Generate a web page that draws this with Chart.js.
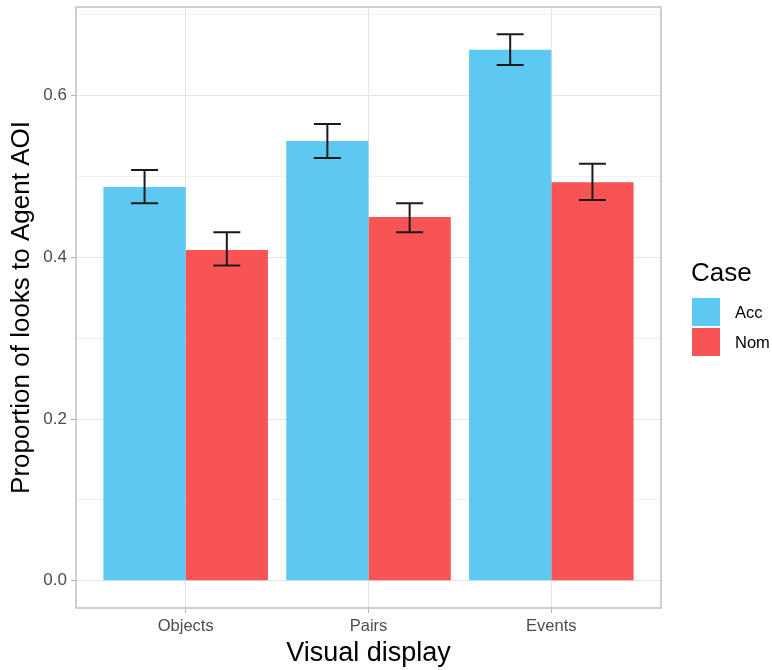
<!DOCTYPE html>
<html>
<head>
<meta charset="utf-8">
<script src="https://cdn.jsdelivr.net/npm/chart.js@4/dist/chart.umd.min.js"></script>
<style>
  html, body { margin: 0; padding: 0; background: #ffffff; }
  #wrap { width: 772px; height: 670px; position: relative; }
</style>
</head>
<body>
<div id="wrap"><canvas id="c" width="772" height="670"></canvas></div>
<script>
// Visual display conditions on the x axis
const categories = ['Objects', 'Pairs', 'Events'];
const caseLabels = ['Acc', 'Nom'];

// Mean proportion of looks to the agent AOI per case
const accMeans = [0.487, 0.544, 0.657];
const nomMeans = [0.409, 0.450, 0.493];

// Error bar bounds (lower, upper)
const accLower = [0.467, 0.523, 0.638];
const accUpper = [0.508, 0.565, 0.676];
const nomLower = [0.390, 0.431, 0.471];
const nomUpper = [0.431, 0.467, 0.516];

// Y axis tick values; odd entries are minor grid lines only
const yTicks = [0, 0.1, 0.2, 0.3, 0.4, 0.5, 0.6, 0.7];
const yTickLabels = ['0.0', '', '0.2', '', '0.4', '', '0.6', ''];

const colors = { Acc: '#5DC8F2', Nom: '#F85455' };
const FONT = '"Liberation Sans", Arial, Helvetica, sans-serif';

// ggplot-style 5% expansion around the data range
const yTop = Math.max(...accUpper, ...nomUpper);
const yPad = yTop * 0.05;

const errorBars = [
  { lower: accLower, upper: accUpper },
  { lower: nomLower, upper: nomUpper }
];

const errorBarPlugin = {
  id: 'errorBars',
  afterDatasetsDraw(chart) {
    const ctx = chart.ctx;
    const y = chart.scales.y;
    ctx.save();
    ctx.strokeStyle = '#1a1a1a';
    ctx.lineWidth = 2;
    errorBars.forEach((eb, di) => {
      const meta = chart.getDatasetMeta(di);
      meta.data.forEach((bar, i) => {
        const x = bar.x;
        const yl = y.getPixelForValue(eb.lower[i]);
        const yu = y.getPixelForValue(eb.upper[i]);
        const half = 13.5;
        ctx.beginPath();
        ctx.moveTo(x, yl); ctx.lineTo(x, yu);
        ctx.moveTo(x - half, yl); ctx.lineTo(x + half, yl);
        ctx.moveTo(x - half, yu); ctx.lineTo(x + half, yu);
        ctx.stroke();
      });
    });
    ctx.restore();
  }
};

const panelPlugin = {
  id: 'panelBorder',
  afterDraw(chart) {
    const { ctx, chartArea: a } = chart;
    ctx.save();
    ctx.strokeStyle = '#c4c4c4';
    ctx.lineWidth = 1.6;
    ctx.strokeRect(a.left, a.top, a.right - a.left, a.bottom - a.top);

    // legend
    ctx.fillStyle = '#000000';
    ctx.textBaseline = 'alphabetic';
    ctx.textAlign = 'left';
    ctx.font = '26px ' + FONT;
    ctx.fillText('Case', 691, 281);
    ctx.font = '16.5px ' + FONT;
    caseLabels.forEach((lab, i) => {
      const top = 298 + i * 30;
      ctx.fillStyle = colors[lab];
      ctx.fillRect(692, top, 28, 28);
      ctx.fillStyle = '#000000';
      ctx.fillText(lab, 735, top + 20);
    });
    ctx.restore();
  }
};

new Chart(document.getElementById('c'), {
  type: 'bar',
  data: {
    datasets: [
      {
        label: caseLabels[0],
        data: accMeans.map((v, i) => ({ x: i + 1, y: v })),
        backgroundColor: colors.Acc,
        borderWidth: 0
      },
      {
        label: caseLabels[1],
        data: nomMeans.map((v, i) => ({ x: i + 1, y: v })),
        backgroundColor: colors.Nom,
        borderWidth: 0
      }
    ]
  },
  plugins: [errorBarPlugin, panelPlugin],
  options: {
    responsive: false,
    animation: false,
    events: [],
    layout: { padding: { left: 0, right: 111, top: 7, bottom: 0 } },
    datasets: { bar: { categoryPercentage: 0.9, barPercentage: 1.0 } },
    plugins: { legend: { display: false }, tooltip: { enabled: false } },
    scales: {
      x: {
        type: 'linear',
        min: 0.4,
        max: 3.6,
        offset: false,
        afterBuildTicks(scale) {
          scale.ticks = categories.map((c, i) => ({ value: i + 1 }));
        },
        afterFit(scale) {
          scale.height = 62;
          scale.paddingLeft = 0;
          scale.paddingRight = 0;
        },
        ticks: {
          callback: (v) => categories[Math.round(v) - 1] || '',
          color: '#4d4d4d',
          font: { family: FONT, size: 16.5 },
          padding: 4,
          maxRotation: 0,
          autoSkip: false
        },
        grid: {
          offset: false,
          color: '#e4e4e4',
          lineWidth: 1,
          tickColor: '#b3b3b3',
          tickLength: 5,
          drawOnChartArea: true
        },
        border: { display: false },
        title: {
          display: true,
          text: 'Visual display',
          color: '#000000',
          font: { family: FONT, size: 27 },
          padding: { top: 0, bottom: 0 }
        }
      },
      y: {
        type: 'linear',
        min: -yPad,
        max: yTop + yPad,
        afterBuildTicks(scale) {
          scale.ticks = yTicks.map(v => ({ value: v }));
        },
        afterFit(scale) {
          scale.width = 76;
          scale.paddingTop = 0;
          scale.paddingBottom = 0;
        },
        ticks: {
          callback: (v, i) => yTickLabels[i],
          color: '#4d4d4d',
          font: { family: FONT, size: 17 },
          padding: 4
        },
        grid: {
          color: (ctx) => (ctx.index % 2 === 0 ? '#e4e4e4' : '#f0f0f0'),
          lineWidth: 1,
          tickColor: (ctx) => (ctx.index % 2 === 0 ? '#b3b3b3' : 'rgba(0,0,0,0)'),
          tickLength: 5
        },
        border: { display: false },
        title: {
          display: true,
          text: 'Proportion of looks to Agent AOI',
          color: '#000000',
          font: { family: FONT, size: 26 },
          padding: { top: 6, bottom: 0 }
        }
      }
    }
  }
});
</script>
</body>
</html>
